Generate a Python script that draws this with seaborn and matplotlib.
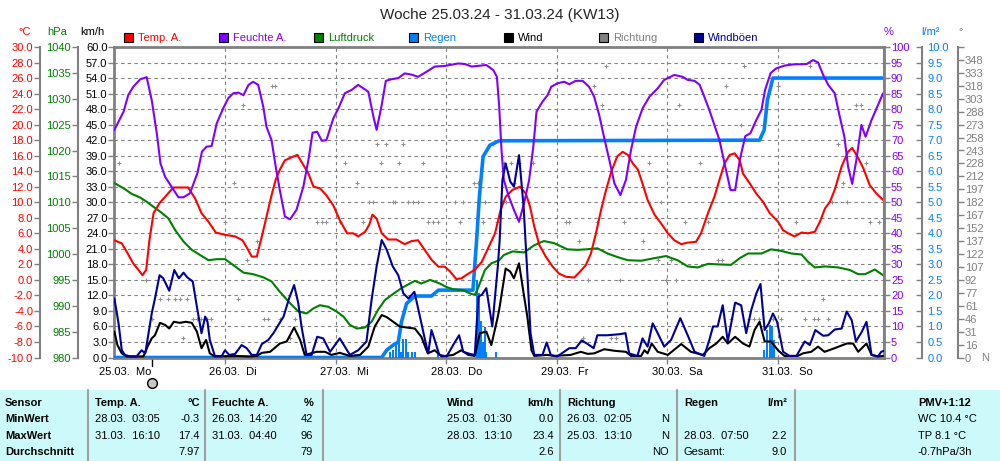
import numpy as np
import pandas as pd
import seaborn as sns
import matplotlib.pyplot as plt
from matplotlib.patches import Rectangle
from matplotlib.lines import Line2D
import matplotlib.transforms as mtrans

sns.set_theme(style='white')
plt.rcParams['font.family'] = ['Liberation Sans', 'DejaVu Sans']
plt.rcParams['font.size'] = 8

# Stunden seit 25.03. 00:00
temp_h = [0, 1.6, 2.7, 4.1, 5.2, 6.1, 6.9, 7.6, 8.5, 9.8, 11.3, 12.8, 14.6, 16.0, 17.5, 18.9, 20.4, 22.0,
          24.0, 26.2, 27.8, 28.8, 29.8, 30.9, 32.0, 33.0, 34.1, 35.0, 35.9, 37.0, 38.5, 39.7, 40.8, 42.1,
          43.2, 44.6, 46.0, 47.5, 48.9, 50.5, 51.8, 52.9, 54.4, 55.3, 56.0, 56.9, 58.0, 59.4, 61.2, 63.0,
          64.5, 65.9, 67.4, 68.8, 70.3, 71.7, 72.8, 74.2, 75.3, 76.8, 78.2, 79.7, 81.1, 82.6, 83.8, 84.9,
          86.4, 88.0, 89.3, 90.2, 91.1, 92.2, 93.6, 95.1, 96.5, 98.0, 99.8, 101.1, 102.3, 103.4, 104.5,
          105.6, 106.7, 107.8, 109.1, 110.3, 111.4, 112.5, 113.6, 114.6, 115.7, 117.2, 118.6, 120.1, 121.5,
          123.0, 124.4, 126.2, 127.3, 128.8, 130.2, 131.3, 132.4, 133.5, 134.6, 135.7, 136.4, 137.9, 139.3,
          140.7, 142.2, 144.0, 145.1, 146.2, 147.6, 149.1, 150.5, 152.0, 153.1, 154.2, 155.3, 156.3, 157.8,
          159.2, 160.1, 161.4, 162.5, 163.9, 165.4, 166.8]
temp_c = [5.1, 4.7, 3.6, 2.1, 1.3, 0.6, 1.3, 5.1, 8.6, 9.9, 10.9, 11.9, 11.9, 11.9, 10.5, 8.6, 7.5, 6.1,
          5.8, 5.6, 5.1, 4.1, 3.0, 3.0, 5.6, 8.1, 10.9, 12.9, 14.2, 15.4, 15.8, 16.1, 15.0, 13.7,
          12.0, 11.8, 10.9, 9.6, 7.7, 6.0, 6.0, 5.6, 6.2, 7.1, 8.4, 7.9, 6.0, 5.2, 5.2, 4.6,
          5.0, 5.1, 3.8, 2.6, 1.7, 1.7, 1.1, 0.1, 0.2, 0.8, 1.3, 2.3, 4.1, 6.0, 9.0, 10.7,
          11.6, 12.0, 11.1, 9.4, 6.9, 4.5, 3.0, 1.7, 0.8, 0.4, 0.3, 1.1, 1.9, 3.4, 6.0,
          9.0, 11.6, 13.9, 15.9, 16.5, 16.1, 15.0, 14.2, 12.4, 10.3, 8.4, 7.3, 6.0, 5.1,
          4.6, 4.8, 4.9, 6.0, 8.6, 10.7, 12.9, 15.0, 16.1, 16.3, 15.4, 13.7, 12.4, 11.1,
          10.1, 8.6, 7.5, 6.4, 6.0, 5.6, 6.1, 6.0, 6.2, 7.5, 9.2, 10.1, 11.6, 14.6,
          16.5, 17.0, 15.7, 14.4, 12.2, 11.1, 10.3]

hum_h = [0, 2.0, 3.0, 4.1, 5.6, 7.0, 8.1, 9.2, 10.0, 11.0, 12.4, 13.9, 15.0, 16.4, 18.0, 19.0, 20.0, 21.1,
         22.2, 23.6, 24.7, 25.8, 26.9, 28.0, 29.1, 30.1, 31.2, 32.3, 33.0, 34.1, 35.0, 35.9, 37.0, 38.1,
         39.5, 41.0, 42.1, 43.0, 44.0, 45.0, 46.0, 47.5, 48.6, 50.0, 51.5, 52.9, 54.0, 55.1, 56.2, 56.9,
         58.0, 58.9, 60.1, 61.6, 63.0, 64.5, 65.9, 67.7, 69.5, 71.7, 74.6, 76.1, 77.5, 80.7, 82.2, 83.0,
         83.5, 84.0, 84.5, 85.6, 86.7, 87.8, 88.9, 90.0, 90.9, 91.6, 92.9, 94.0, 94.8, 96.1, 97.6, 98.7,
         100.1, 101.6, 103.0, 104.1, 105.2, 106.3, 107.4, 108.5, 109.8, 111.0, 112.1, 113.2, 114.6, 116.1,
         117.9, 119.3, 121.5, 123.3, 124.4, 125.9, 127.0, 128.0, 129.1, 130.2, 131.3, 132.4, 133.7, 134.7,
         135.7, 136.9, 138.0, 139.3, 140.4, 141.2, 142.4, 143.6, 145.4, 147.3, 150.2, 151.6, 152.7, 153.8,
         154.9, 156.3, 157.4, 158.4, 159.2, 160.1, 161.0, 162.1, 163.0, 164.3, 165.7, 166.8]
hum_pct = [73.3, 79.2, 84.5, 87.2, 89.6, 90.3, 82.9, 72.2, 62.5, 58.2, 55.0, 51.6, 51.6, 52.9, 59.3, 66.3, 67.9, 68.1,
           75.4, 80.2, 83.5, 85.1, 85.3, 84.5, 87.8, 88.8, 87.8, 80.8, 74.3, 70.0, 61.5, 53.9, 45.4, 44.5,
           47.5, 55.0, 63.6, 72.4, 72.7, 69.8, 70.0, 77.0, 80.2, 85.1, 86.2, 87.8, 86.7, 85.6, 77.6, 73.3,
           81.3, 89.1, 89.6, 90.0, 91.5, 91.1, 90.4, 92.0, 93.7, 93.9, 94.7, 94.5, 93.7, 94.2, 92.6, 90.4,
           80.8, 66.8, 57.2, 51.8, 47.5, 43.7, 49.7, 57.2, 67.9, 79.2, 82.4, 84.5, 87.2, 88.3, 88.8, 88.0,
           89.1, 89.1, 87.2, 84.0, 78.1, 70.6, 63.6, 56.1, 52.3, 57.2, 66.8, 74.3, 80.2, 84.0,
           86.7, 89.4, 91.0, 90.4, 89.4, 89.1, 87.8, 84.0, 79.7, 74.9, 70.0, 62.5, 53.9, 53.9,
           63.6, 71.3, 72.2, 76.5, 79.7, 86.2, 91.6, 93.1, 94.0, 94.4, 94.5, 95.8, 95.0, 91.0,
           87.8, 85.1, 77.6, 71.1, 61.5, 55.9, 63.6, 74.9, 71.1, 76.5, 81.3, 85.1]

pres_h = [0, 2.0, 3.8, 5.6, 7.0, 8.5, 9.9, 11.7, 13.2, 15.0, 16.8, 18.6, 20.4, 22.2, 24.0, 26.2, 28.0, 30.1,
          32.3, 34.1, 35.9, 38.1, 39.9, 41.7, 43.2, 44.6, 46.4, 48.2, 49.7, 51.1, 52.6, 54.4, 55.8, 57.2,
          58.7, 60.5, 62.3, 64.1, 65.2, 66.6, 68.5, 70.6, 72.1, 73.5, 75.7, 77.1, 78.2, 78.9, 80.4, 81.8,
          83.5, 84.5, 86.4, 88.9, 91.1, 93.2, 95.4, 98.3, 100.5, 102.3, 104.8, 107.0, 109.2, 111.4, 114.3,
          117.2, 119.7, 122.2, 124.4, 126.6, 128.8, 130.9, 133.8, 135.7, 137.5, 140.4, 142.5, 144.7, 146.9,
          149.1, 150.5, 152.0, 154.2, 157.1, 159.6, 161.4, 162.9, 165.0, 166.8]
pres_hpa = [1013.7, 1012.7, 1011.6, 1010.9, 1010.1, 1009.1, 1008.2, 1006.9, 1004.6, 1002.4, 1000.8, 999.8, 998.8,
            999.0, 999.0, 997.6, 996.4, 996.1, 995.5, 994.7, 992.7, 990.5, 988.9, 988.5, 989.5, 990.1, 989.8,
            988.9, 987.9, 986.3, 985.6, 985.8, 986.9, 989.2, 991.1, 992.3, 993.4, 994.3, 994.8, 994.3, 995.0,
            994.3, 993.6, 993.2, 993.0, 992.4, 992.1, 993.4, 996.9, 998.2, 998.8, 999.8, 1000.5, 1000.3,
            1001.7, 1002.5, 1002.1, 1000.9, 1000.8, 1000.9, 1001.1, 1000.1, 999.4, 998.8, 998.7, 999.2, 999.6,
            998.8, 997.6, 997.4, 998.1, 998.0, 997.9, 999.2, 1000.1, 1000.1, 1000.9, 1000.6, 1000.1, 999.9,
            998.5, 997.4, 997.6, 997.4, 996.9, 996.1, 996.1, 997.0, 995.9]

rain_sum_h = [0, 58.0, 59.1, 60.5, 61.6, 62.3, 63.4, 65.2, 68.8, 70.3, 77.8, 78.6, 79.2, 80.0, 81.5, 83.5,
              140.0, 141.0, 141.7, 142.9, 167.0]
rain_sum = [0, 0, 0.24, 0.4, 0.5, 1.15, 1.74, 1.98, 1.98, 2.17, 2.17, 3.78, 5.18, 6.47, 6.84, 6.98,
            7.0, 7.33, 8.29, 9.0, 9.0]

rain_h = [59.8, 60.4, 61.1, 61.8, 62.3, 62.7, 63.2, 63.8, 64.5, 65.2, 70.3, 78.6, 79.1, 79.5, 80.0, 80.4,
          80.7, 82.9, 141.0, 141.7, 142.2, 142.7, 143.1]
rain_mm = [0.19, 0.24, 0.40, 0.61, 0.19, 0.61, 0.61, 0.19, 0.19, 0.19, 0.13, 2.5, 2.07, 1.16, 0.51, 0.99,
           0.19, 0.19, 0.24, 0.88, 1.04, 1.01, 0.56]

wind_h = [0, 0.65, 1.6, 2.7, 6.3, 7.2, 8.1, 8.8, 9.9, 11.0, 11.9, 12.9, 14.2, 15.5, 16.8, 17.9, 18.9, 19.9,
          20.7, 21.8, 26.5, 29.4, 30.9, 32.0, 33.8, 35.9, 37.4, 39.0, 40.3, 41.3, 43.9, 45.7, 47.1, 48.9,
          51.1, 53.3, 55.1, 56.5, 58.0, 59.1, 60.5, 61.9, 63.4, 65.2, 66.6, 68.0, 69.5, 71.0, 73.5, 75.3,
          76.8, 78.2, 79.3, 80.7, 81.8, 83.2, 83.6, 84.9, 85.9, 86.7, 87.8, 88.8, 89.6, 90.5, 91.1, 94.0,
          95.4, 99.0, 101.2, 102.7, 104.1, 106.3, 108.5, 111.0, 112.1, 114.3, 115.0, 115.7, 116.6, 117.9,
          120.1, 123.0, 125.1, 127.7, 129.1, 130.6, 132.0, 133.1, 134.7, 136.4, 137.8, 138.9, 140.0, 141.1,
          142.5, 144.0, 145.4, 148.3, 149.4, 151.2, 152.7, 154.1, 156.3, 158.9, 160.3, 161.4, 163.2, 164.3,
          165.7, 166.8]
wind_kmh = [5.0, 2.4, 0.8, 0.2, 0.2, 2.1, 3.7, 4.3, 6.7, 6.3, 5.6, 6.9, 6.7, 6.9, 6.7, 5.0, 1.8, 3.4,
            0.8, 0.2, 0.3, 0.2, 0.3, 0.9, 1.1, 2.7, 3.1, 5.8, 3.4, 0.5, 1.1, 1.1, 0.5, 0.9,
            0.3, 0.5, 2.1, 6.0, 8.2, 7.8, 6.9, 6.0, 5.8, 5.6, 4.0, 0.8, 1.4, 0.2, 0.5, 1.4,
            0.5, 0.3, 4.7, 5.0, 2.4, 7.9, 9.8, 17.2, 16.6, 15.3, 18.2, 12.4, 7.9, 1.4, 0.3, 0.5,
            0.3, 0.5, 1.1, 0.7, 0.8, 1.6, 1.3, 1.1, 0.3, 0.3, 1.4, 0.8, 2.7, 1.1,
            0.5, 2.6, 1.1, 0.5, 1.8, 2.7, 4.0, 2.7, 4.0, 2.7, 2.1, 5.3, 6.9, 3.1,
            3.1, 1.4, 0.3, 0.3, 0.8, 1.1, 2.1, 1.1, 1.8, 2.7, 2.7, 1.1, 2.7, 0.5,
            0.2, 0.3]

gust_h = [0, 0.9, 1.6, 2.3, 3.4, 4.8, 5.9, 6.7, 7.4, 8.1, 8.8, 9.8, 10.6, 11.9, 13.0, 14.0, 15.0, 15.8,
          17.0, 17.9, 18.9, 19.7, 20.2, 20.7, 21.8, 23.3, 24.0, 24.9, 26.2, 27.6, 28.7, 29.8, 30.9, 32.0,
          33.4, 34.5, 35.6, 36.7, 37.9, 39.0, 39.9, 40.6, 41.7, 42.8, 44.0, 45.3, 46.8, 48.9, 51.1, 52.9,
          54.7, 55.8, 56.9, 58.0, 59.1, 60.4, 61.6, 62.7, 63.8, 65.1, 66.3, 67.4, 68.1, 68.8, 69.5, 70.5,
          72.1, 73.5, 74.8, 75.7, 77.1, 78.2, 79.0, 79.7, 80.7, 82.0, 83.2, 83.6, 84.2, 84.9, 85.9, 86.7,
          87.8, 88.8, 89.6, 90.3, 91.1, 92.9, 93.8, 94.7, 96.1, 98.7, 100.1, 101.4, 102.7, 104.0, 104.8,
          107.0, 109.6, 110.9, 111.7, 113.5, 114.6, 115.7, 116.8, 117.9, 119.3, 120.8, 122.8, 124.4, 125.9,
          128.0, 129.1, 129.9, 130.9, 132.0, 133.1, 134.7, 136.0, 137.1, 138.2, 139.3, 140.2, 141.1, 142.0,
          142.9, 143.8, 145.1, 146.5, 148.0, 149.8, 150.9, 152.1, 153.8, 154.9, 156.3, 157.8, 158.9, 160.0,
          160.9, 162.2, 163.2, 164.3, 165.7, 166.4, 167.0]
gust_kmh = [11.4, 6.6, 1.4, 0.5, 0.2, 0.2, 1.4, 0.8, 4.7, 8.5, 11.4, 15.9, 15.3, 12.9, 16.9, 15.3, 16.4, 15.5,
            14.7, 9.8, 4.7, 7.9, 6.9, 3.4, 0.3, 0.3, 1.4, 0.5, 0.7, 2.4, 1.8, 0.5, 0.5, 2.6,
            3.4, 4.7, 6.3, 7.9, 11.4, 14.0, 10.5, 6.0, 0.5, 0.5, 4.0, 3.7, 1.1, 3.7, 0.5, 1.4,
            3.1, 11.1, 17.6, 22.7, 20.8, 17.6, 15.9, 12.4, 11.4, 12.7, 7.9, 3.4, 0.8, 5.3, 3.4, 0.5,
            0.2, 2.4, 4.3, 1.1, 0.7, 0.5, 11.8, 12.1, 13.4, 6.0, 17.6, 22.7, 34.3, 37.5, 34.0, 33.0,
            39.1, 29.1, 16.3, 4.7, 0.5, 0.5, 2.9, 0.5, 0.2, 1.8, 1.8, 3.3, 2.6, 1.8, 4.3,
            4.3, 4.5, 4.7, 0.8, 0.3, 3.7, 2.1, 6.6, 4.7, 2.1, 3.4, 7.6, 4.3, 1.1,
            0.3, 3.4, 6.0, 6.0, 10.1, 3.1, 10.6, 10.1, 4.7, 9.2, 12.4, 14.2, 5.3, 6.6,
            8.5, 6.9, 1.1, 0.3, 0.3, 3.1, 2.4, 5.3, 4.2, 4.3, 5.4, 5.6, 8.9, 7.2,
            3.1, 5.0, 6.9, 0.5, 0.2, 1.1, 1.3]

dir_h = [0.9, 5.9, 6.9, 8.1, 9.8, 11.7, 13.2, 14.2, 14.8, 15.8, 17.0, 18.0, 18.9, 20.0, 21.0, 24.0, 25.9, 26.9,
         27.8, 28.8, 30.9, 32.5, 33.4, 34.1, 34.8, 35.9, 38.1, 39.2, 43.9, 45.0, 46.0, 48.9, 50.0, 52.7,
         53.9, 55.3, 56.2, 56.9, 57.8, 58.9, 60.4, 60.9, 61.8, 62.7, 63.8, 64.8, 65.9, 66.9, 68.1, 69.2,
         70.3, 73.9, 75.0, 75.7, 78.0, 79.0, 80.0, 80.4, 82.1, 83.1, 84.2, 84.5, 84.9, 86.0, 86.7, 87.8,
         90.9, 98.0, 98.7, 100.9, 101.6, 102.7, 104.0, 104.8, 105.7, 106.7, 107.7, 108.8, 109.8, 110.6,
         114.6, 115.9, 117.9, 118.6, 119.7, 120.8, 121.9, 122.6, 123.8, 127.0, 128.8, 130.9, 131.8, 132.8,
         133.8, 135.9, 136.7, 137.8, 138.8, 139.8, 142.9, 143.9, 144.7, 147.8, 149.9, 150.9, 151.9, 152.7,
         153.8, 154.9, 155.7, 157.0, 158.2, 158.9, 161.0, 162.1, 163.2, 163.9, 165.9]
dir_deg = [225, 180, 90, 45, 67.5, 67.5, 67.5, 67.5, 22.5, 67.5, 45, 45, 45, 45, 45, 157.5, 202.5, 67.5,
           292.5, 112.5, 135, 45, 45, 315, 315, 45, 22.5, 45, 157.5, 157.5, 157.5, 157.5, 225, 202.5,
           157.5, 180, 180, 247.5, 225, 247.5, 180, 180, 225, 247.5, 180, 180, 180, 225, 157.5, 157.5,
           157.5, 180, 157.5, 180, 202.5, 202.5, 157.5, 180, 247.5, 157.5, 180, 225, 180, 225, 202.5, 225,
           225, 157.5, 157.5, 135, 22.5, 90, 315, 157.5, 292.5, 337.5, 22.5, 22.5, 90, 157.5,
           135, 225, 112.5, 180, 90, 112.5, 90, 292.5, 157.5, 225, 157.5, 112.5, 112.5, 315,
           45, 270, 337.5, 45, 45, 45, 45, 315, 45, 157.5, 45, 337.5, 45, 45,
           67.5, 45, 180, 247.5, 202.5, 180, 292.5, 292.5, 225, 157.5, 157.5]

day_labels = ['25.03.  Mo', '26.03.  Di', '27.03.  Mi', '28.03.  Do', '29.03.  Fr', '30.03.  Sa', '31.03.  So']
dir_tick_labels = ['0', '16', '31', '46', '61', '77', '92', '107', '122', '137', '152', '167', '182', '197',
                   '212', '228', '243', '258', '273', '288', '303', '318', '333', '348', '']

table_rows = [
    ['Sensor', 'MinWert', 'MaxWert', 'Durchschnitt'],
    ['Temp. A.', '28.03.  03:05', '31.03.  16:10', ''],
    ['°C', '-0.3', '17.4', '7.97'],
    ['Feuchte A.', '26.03.  14:20', '31.03.  04:40', ''],
    ['%', '42', '96', '79'],
    ['Wind', '25.03.  01:30', '28.03.  13:10', ''],
    ['km/h', '0.0', '23.4', '2.6'],
    ['Richtung', '26.03.  02:05', '25.03.  13:10', ''],
    ['', 'N', 'N', 'NO'],
    ['Regen', '', '28.03.  07:50', 'Gesamt:'],
    ['l/m²', '', '2.2', '9.0'],
    ['PMV+1:12', 'WC 10.4 °C', 'TP 8.1 °C', '-0.7hPa/3h'],
]

RED, PURPLE, GREEN, BLUE = '#ff0000', '#8000ff', '#008000', '#0080ff'
GRAY, NAVY = '#808080', '#000099'
W, H = 1000, 461


def fx(x):
    return x / W


def fy(y):
    return 1 - y / H


fig = plt.figure(figsize=(10, 4.61), dpi=100)
x0, x1, y0, y1 = 114.4, 884.0, 47.0, 357.5
ax = fig.add_axes([fx(x0), fy(y1), (x1 - x0) / W, (y1 - y0) / H])
ax_d = ax.twinx()
ax_r = ax.twinx()
ax_p = ax.twinx()
ax_t = ax.twinx()
ax_h = ax.twinx()
ax_w = ax.twinx()

# Kurven
sns.scatterplot(x=dir_h, y=dir_deg, ax=ax_d, marker='+', color='#909090', s=7, linewidth=0.8)
ax_r.bar(rain_h, rain_mm, width=0.45, color=BLUE, linewidth=0)
sns.lineplot(x=rain_sum_h, y=rain_sum, ax=ax_r, color=BLUE, linewidth=2.6, estimator=None)
sns.lineplot(x=pres_h, y=pres_hpa, ax=ax_p, color=GREEN, linewidth=1.5, estimator=None)
sns.lineplot(x=temp_h, y=temp_c, ax=ax_t, color=RED, linewidth=1.5, estimator=None)
sns.lineplot(x=hum_h, y=hum_pct, ax=ax_h, color=PURPLE, linewidth=1.5, estimator=None)
sns.lineplot(x=wind_h, y=wind_kmh, ax=ax_w, color='black', linewidth=1.5, estimator=None)
sns.lineplot(x=gust_h, y=gust_kmh, ax=ax_w, color=NAVY, linewidth=1.5, estimator=None)


def side_axis(a, side, pos, lo, hi, ticks, labels, color, direction='out', pad=1):
    for s in a.spines.values():
        s.set_visible(False)
    a.set_ylim(lo, hi)
    a.set_xlabel('')
    a.set_ylabel('')
    if side is None:
        a.set_yticks([])
        return
    sp = a.spines[side]
    sp.set_visible(True)
    sp.set_position(('axes', pos))
    sp.set_color(GRAY)
    sp.set_linewidth(1.5)
    a.yaxis.set_ticks_position(side)
    a.yaxis.set_label_position(side)
    a.set_yticks(ticks)
    a.set_yticklabels(labels)
    a.tick_params(axis='y', colors=GRAY, labelcolor=color, direction=direction,
                  length=4, width=1, pad=pad, labelsize=8)


def axfrac(px_x):
    return (px_x - x0) / (x1 - x0)


t_ticks = np.arange(-10, 31, 2)
side_axis(ax_t, 'left', axfrac(40), -10, 30, t_ticks, [f'{v:.1f}' for v in t_ticks], RED)
p_ticks = np.arange(980, 1041, 5)
side_axis(ax_p, 'left', axfrac(78), 980, 1040, p_ticks, [str(v) for v in p_ticks], GREEN)
h_ticks = np.arange(0, 101, 5)
side_axis(ax_h, 'right', 1.0, 0, 100, h_ticks, [str(v) for v in h_ticks], PURPLE)
r_ticks = np.arange(0, 10.01, 0.5)
side_axis(ax_r, 'right', axfrac(922), 0, 10, r_ticks, [f'{v:.1f}' for v in r_ticks], BLUE,
          direction='in', pad=4)
side_axis(ax_d, 'right', axfrac(958), 0, 360, np.arange(0, 361, 15), dir_tick_labels, GRAY)
side_axis(ax_w, None, 0, 0, 60, [], [], 'black')

# Hauptachse km/h
ax.set_xlim(0, 167.0)
ax.set_ylim(0, 60)
k_ticks = np.arange(0, 61, 3)
ax.set_yticks(k_ticks)
ax.set_yticklabels([f'{v:.1f}' for v in k_ticks])
ax.set_xticks(np.arange(24, 167, 24))
ax.set_xticklabels([])
ax.tick_params(axis='y', colors=GRAY, labelcolor='black', direction='out', length=4, width=1,
               pad=1, labelsize=8, left=True)
ax.tick_params(axis='x', colors=GRAY, direction='out', length=4, width=1, bottom=True)
ax.grid(True, color=GRAY, linestyle=(0, (3, 3)), linewidth=0.8)
for s in ax.spines.values():
    s.set_visible(True)
    s.set_color(GRAY)
    s.set_linewidth(2)

trans = mtrans.blended_transform_factory(ax.transData, ax.transAxes)
for i, lab in enumerate(day_labels):
    ax.text(i * 24 - 3.4, -0.047, lab, transform=trans, ha='left', va='center', fontsize=8, color='black')
# Mond-Symbol
ax.add_line(Line2D([8.2, 8.2], [0, -0.028], transform=trans, color='black', lw=1, clip_on=False))
ax.plot([8.2], [-0.082], transform=trans, marker='o', ms=7, mfc='#c8c8c8', mec='black', mew=1,
        clip_on=False)

# Titel und Einheiten
fig.text(0.5, fy(15), 'Woche 25.03.24 - 31.03.24 (KW13)', ha='center', va='center', fontsize=11)
for x, txt, c in [(25, '°C', RED), (57, 'hPa', GREEN), (92, 'km/h', 'black'),
                  (889, '%', PURPLE), (931, 'l/m²', BLUE), (961, '°', GRAY)]:
    fig.text(fx(x), fy(32), txt, ha='center', va='center', fontsize=8, color=c)
fig.text(fx(985), fy(358), 'N', ha='center', va='center', fontsize=8, color=GRAY)

# Legende
legend = [('Temp. A.', RED, RED), ('Feuchte A.', PURPLE, PURPLE), ('Luftdruck', GREEN, GREEN),
          ('Regen', BLUE, BLUE), ('Wind', 'black', 'black'), ('Richtung', GRAY, GRAY),
          ('Windböen', NAVY, NAVY)]
for i, (lab, fc, tc) in enumerate(legend):
    lx = 124 + i * 95
    fig.patches.append(Rectangle((fx(lx), fy(42)), 9 / W, 9 / H, transform=fig.transFigure,
                                 facecolor=fc, edgecolor='black', linewidth=0.8))
    fig.text(fx(lx + 14), fy(38), lab, ha='left', va='center', fontsize=8, color=tc)

# Tabelle
fig.patches.append(Rectangle((0, 0), 1, fy(390), transform=fig.transFigure,
                             facecolor='#ccfafa', edgecolor='none', zorder=0))
for sx in [88, 205, 323, 560, 677, 795]:
    fig.lines.append(Line2D([fx(sx), fx(sx)], [0, fy(390)], transform=fig.transFigure,
                            color='#a0a0a0', linewidth=1.5))
row_y = [403, 419, 436, 452]
cols = [(5, 'left'), (95, 'left'), (200, 'right'), (212, 'left'), (313, 'right'), (447, 'left'),
        (554, 'right'), (567, 'left'), (669, 'right'), (684, 'left'), (787, 'right'), (918, 'left')]
for ci, (cx, ha) in enumerate(cols):
    for ri, txt in enumerate(table_rows[ci]):
        bold = ri == 0 or ci == 0
        fig.text(fx(cx), fy(row_y[ri]), txt, ha=ha, va='center', fontsize=8,
                 fontweight='bold' if bold else 'normal', color='black')

fig.savefig('out.png', dpi=100)
